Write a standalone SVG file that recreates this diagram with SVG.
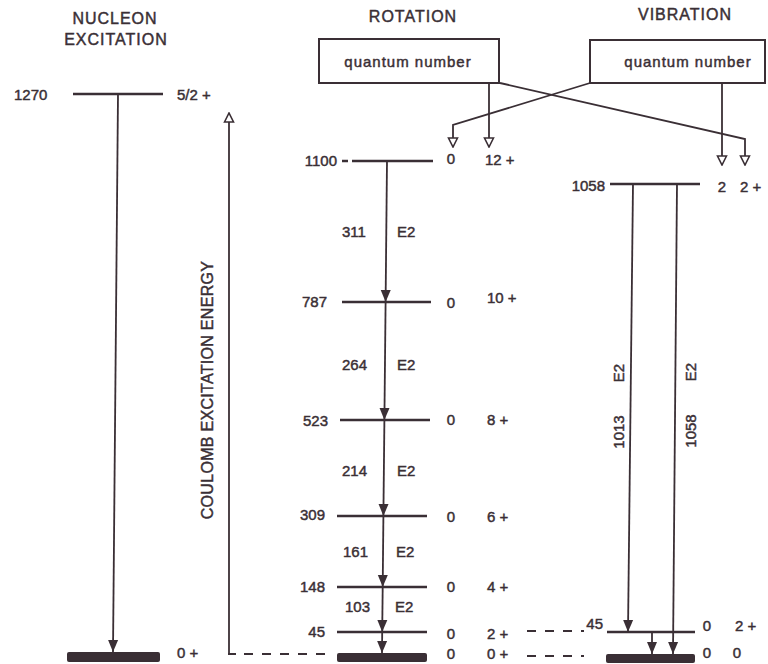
<svg xmlns="http://www.w3.org/2000/svg" width="768" height="664" viewBox="0 0 768 664">
<defs>
<style>
text{font-family:"Liberation Sans",Arial,sans-serif;fill:#3a2f35;stroke:#3a2f35;stroke-width:0.45;font-size:15px}
.hd{font-size:16px;letter-spacing:1px}
.cl{font-size:16px;letter-spacing:0.3px}
.qn{font-size:15px;letter-spacing:1px}
.lvl{stroke:#3a2f35;stroke-width:2.5;fill:none}
.bar{fill:#3a2f35}
.tr{stroke:#3a2f35;stroke-width:1.8;fill:none;marker-end:url(#af)}
.cn{stroke:#3a2f35;stroke-width:1.8;fill:none;marker-end:url(#ao)}
.box{fill:#fff;stroke:#3a2f35;stroke-width:2}
.dash{stroke:#3a2f35;stroke-width:2;stroke-dasharray:9 9;fill:none}
</style>
<marker id="af" viewBox="0 -6 12 12" refX="12" refY="0" markerWidth="12" markerHeight="12" markerUnits="userSpaceOnUse" orient="auto">
<path d="M0,-5 L12,0 L0,5 z" fill="#3a2f35"/>
</marker>
<marker id="ao" viewBox="-1 -6 11 12" refX="9" refY="0" markerWidth="11" markerHeight="12" markerUnits="userSpaceOnUse" orient="auto">
<path d="M0,-4.5 L9,0 L0,4.5 z" fill="#fff" stroke="#3a2f35" stroke-width="1.6"/>
</marker>
</defs>
<rect width="768" height="664" fill="#fff"/>

<g id="headers">
<text class="hd" x="115" y="24" text-anchor="middle">NUCLEON</text>
<text class="hd" x="116" y="45" text-anchor="middle">EXCITATION</text>
<text class="hd" x="413" y="22" text-anchor="middle">ROTATION</text>
<text class="hd" x="685" y="20" text-anchor="middle">VIBRATION</text>
</g>

<g id="box-rotation">
<rect class="box" x="319" y="39" width="180" height="44"/>
<text class="qn" x="408" y="67" text-anchor="middle">quantum number</text>
</g>
<g id="box-vibration">
<rect class="box" x="590" y="40" width="175" height="43"/>
<text class="qn" x="688" y="67" text-anchor="middle">quantum number</text>
</g>

<g id="nucleon-1270">
<line class="lvl" x1="73" y1="94" x2="163" y2="94"/>
<text x="14" y="100">1270</text>
<text x="177" y="100">5/2 +</text>
</g>
<g id="nucleon-ground">
<rect class="bar" x="67" y="652" width="93" height="10" rx="2"/>
<text x="177" y="658">0 +</text>
</g>

<g id="coulomb-label">
<text class="cl" transform="translate(213,390) rotate(-90)" text-anchor="middle">COULOMB EXCITATION ENERGY</text>
</g>

<g id="rot-1100">
<line class="lvl" x1="342" y1="161" x2="348" y2="161"/>
<line class="lvl" x1="352" y1="161" x2="433" y2="161"/>
<text x="337" y="166" text-anchor="end">1100</text>
<text x="451" y="164" text-anchor="middle">0</text>
<text x="485" y="165">12 +</text>
</g>
<g id="rot-787">
<line class="lvl" x1="342" y1="302" x2="431" y2="302"/>
<text x="327" y="307" text-anchor="end">787</text>
<text x="451" y="308" text-anchor="middle">0</text>
<text x="487" y="303">10 +</text>
</g>
<g id="rot-523">
<line class="lvl" x1="340" y1="420" x2="430" y2="420"/>
<text x="328" y="426" text-anchor="end">523</text>
<text x="451" y="425" text-anchor="middle">0</text>
<text x="487" y="425">8 +</text>
</g>
<g id="rot-309">
<line class="lvl" x1="337" y1="516" x2="427" y2="516"/>
<text x="325" y="520" text-anchor="end">309</text>
<text x="451" y="522" text-anchor="middle">0</text>
<text x="487" y="522">6 +</text>
</g>
<g id="rot-148">
<line class="lvl" x1="337" y1="587" x2="427" y2="587"/>
<text x="325" y="592" text-anchor="end">148</text>
<text x="451" y="592" text-anchor="middle">0</text>
<text x="487" y="592">4 +</text>
</g>
<g id="rot-45">
<line class="lvl" x1="337" y1="632" x2="427" y2="632"/>
<text x="325" y="637" text-anchor="end">45</text>
<text x="451" y="639" text-anchor="middle">0</text>
<text x="487" y="639">2 +</text>
</g>
<g id="rot-ground">
<rect class="bar" x="337" y="653" width="90" height="9" rx="2"/>
<text x="451" y="659" text-anchor="middle">0</text>
<text x="487" y="659">0 +</text>
</g>

<g id="vib-1058">
<line class="lvl" x1="610" y1="184" x2="700" y2="184"/>
<text x="605" y="191" text-anchor="end">1058</text>
<text x="722" y="192" text-anchor="middle">2</text>
<text x="740" y="192">2 +</text>
</g>
<g id="vib-45">
<line class="lvl" x1="607" y1="632" x2="695" y2="632"/>
<text x="603" y="629" text-anchor="end">45</text>
<text x="707" y="631" text-anchor="middle">0</text>
<text x="735" y="631">2 +</text>
</g>
<g id="vib-ground">
<rect class="bar" x="606" y="654" width="89" height="9" rx="2"/>
<text x="707" y="658" text-anchor="middle">0</text>
<text x="737" y="658" text-anchor="middle">0</text>
</g>

<g id="transition-labels">
<text x="342" y="237">311</text><text x="397" y="237">E2</text>
<text x="342" y="370">264</text><text x="397" y="370">E2</text>
<text x="342" y="476">214</text><text x="397" y="476">E2</text>
<text x="343" y="557">161</text><text x="396" y="557">E2</text>
<text x="345" y="612">103</text><text x="395" y="612">E2</text>
<text transform="translate(624,373) rotate(-90)" text-anchor="middle">E2</text>
<text transform="translate(624,432) rotate(-90)" text-anchor="middle">1013</text>
<text transform="translate(696,372) rotate(-90)" text-anchor="middle">E2</text>
<text transform="translate(696,431) rotate(-90)" text-anchor="middle">1058</text>
</g>

<g id="connectors">
<line class="tr" x1="118" y1="94" x2="113" y2="652"/>
<path d="M229,654 V113" class="cn"/>
<path d="M228,654 H236" stroke="#3a2f35" stroke-width="2" fill="none"/>
<path class="dash" d="M244,654 H332"/>
<path class="dash" d="M527,631 H584"/>
<path class="dash" d="M527,656 H584"/>
<line class="tr" x1="387" y1="161" x2="385.6" y2="302"/>
<line class="tr" x1="385.6" y1="302" x2="384.4" y2="420"/>
<line class="tr" x1="384.4" y1="420" x2="383.4" y2="516"/>
<line class="tr" x1="383.4" y1="516" x2="382.7" y2="587"/>
<line class="tr" x1="382.7" y1="587" x2="382.2" y2="632"/>
<line class="tr" x1="382.2" y1="632" x2="382" y2="653"/>
<line class="tr" x1="633" y1="184" x2="628" y2="632"/>
<line class="tr" x1="677" y1="184" x2="673" y2="654"/>
<line class="tr" x1="652" y1="632" x2="652" y2="654"/>
<path class="cn" d="M489,83 V147"/>
<path class="cn" d="M500,83 L745,139 V165"/>
<path class="cn" d="M590,83 L453,125 V147"/>
<path class="cn" d="M722,83 V165"/>
</g>
</svg>
